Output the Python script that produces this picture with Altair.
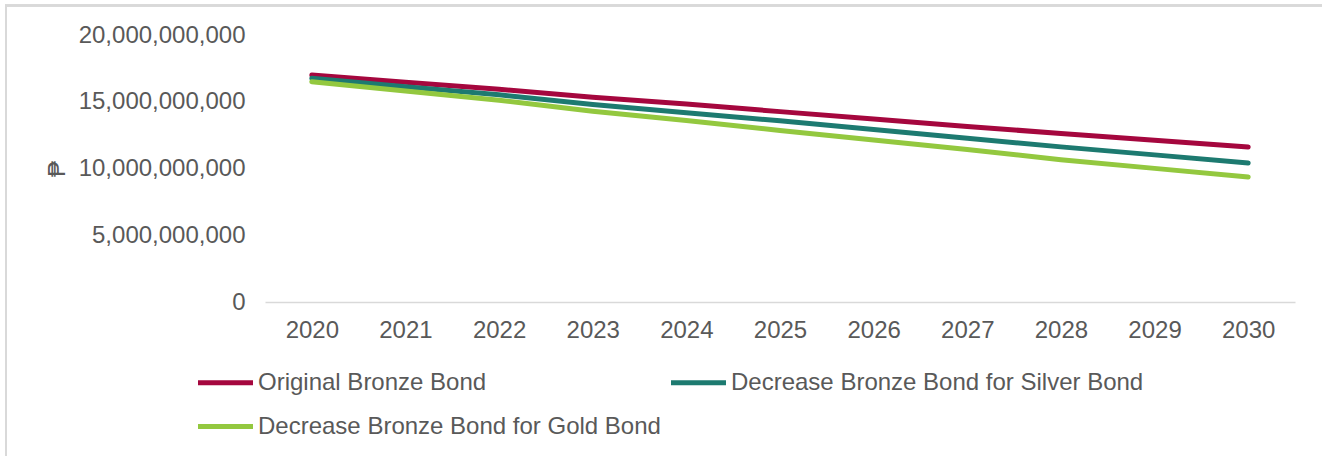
import altair as alt
import pandas as pd

years = ["2020", "2021", "2022", "2023", "2024", "2025", "2026", "2027", "2028", "2029", "2030"]
series_names = [
    "Original Bronze Bond",
    "Decrease Bronze Bond for Silver Bond",
    "Decrease Bronze Bond for Gold Bond",
]
original = [17.0e9, 16.46e9, 15.94e9, 15.33e9, 14.83e9, 14.26e9, 13.71e9, 13.14e9, 12.63e9, 12.12e9, 11.61e9]
silver = [16.76e9, 16.13e9, 15.52e9, 14.79e9, 14.18e9, 13.57e9, 12.92e9, 12.26e9, 11.62e9, 11.02e9, 10.41e9]
gold = [16.5e9, 15.81e9, 15.12e9, 14.29e9, 13.59e9, 12.85e9, 12.14e9, 11.42e9, 10.66e9, 10.01e9, 9.36e9]
colors = ["#A5073E", "#1D7A70", "#93C83F"]
y_ticks = [0, 5e9, 10e9, 15e9, 20e9]

rows = []
for name, vals in zip(series_names, [original, silver, gold]):
    for yr, v in zip(years, vals):
        rows.append({"Year": yr, "Value": v, "Series": name})
df = pd.DataFrame(rows)

FONT = "Liberation Sans"
TXT = "#595959"
FS = 24

lines = alt.Chart(df).mark_line(strokeWidth=5, strokeCap="round", strokeJoin="round").encode(
    x=alt.X("Year:O", sort=years,
            scale=alt.Scale(type="point", padding=0.5),
            axis=alt.Axis(title=None, labelAngle=0, ticks=False, domainColor="#D9D9D9",
                          domainWidth=1.5, labelPadding=16, labelFontSize=FS,
                          labelColor=TXT, labelFont=FONT, grid=False)),
    y=alt.Y("Value:Q", scale=alt.Scale(domain=[0, 20e9], nice=False),
            axis=alt.Axis(title="₱", values=y_ticks, format=",.0f", ticks=False, domain=False,
                          grid=False, labelPadding=20, labelFontSize=FS, labelColor=TXT,
                          labelFont=FONT, titleFontSize=FS, titleColor=TXT, titleFont=FONT,
                          titleFontWeight="normal", titlePadding=9)),
    color=alt.Color("Series:N", sort=series_names,
                    scale=alt.Scale(domain=series_names, range=colors),
                    legend=alt.Legend(title=None, orient="none", legendX=-56, legendY=331,
                                      columns=2, direction="horizontal",
                                      symbolType="M-2,0H2", symbolSize=756, symbolStrokeWidth=5,
                                      labelFontSize=FS, labelColor=TXT, labelFont=FONT,
                                      labelOffset=16, columnPadding=0, rowPadding=15,
                                      labelLimit=600)),
)

top_border = alt.Chart(df).mark_rule(color="#D9D9D9", strokeWidth=2).encode(
    x=alt.value(-259), x2=alt.value(1060), y=alt.value(-29.5))
left_border = alt.Chart(df).mark_rule(color="#D9D9D9", strokeWidth=2).encode(
    x=alt.value(-259), y=alt.value(-30.5), y2=alt.value(425))

chart = alt.layer(top_border, left_border, lines).properties(
    width=1030, height=267,
    autosize=alt.AutoSizeParams(type="none"),
    padding={"left": 265, "top": 35, "right": 27, "bottom": 154},
).configure(background="white", view=alt.ViewConfig(strokeWidth=0, stroke="transparent"))

chart.save("out.html", embed_options={"renderer": "svg", "actions": False})
